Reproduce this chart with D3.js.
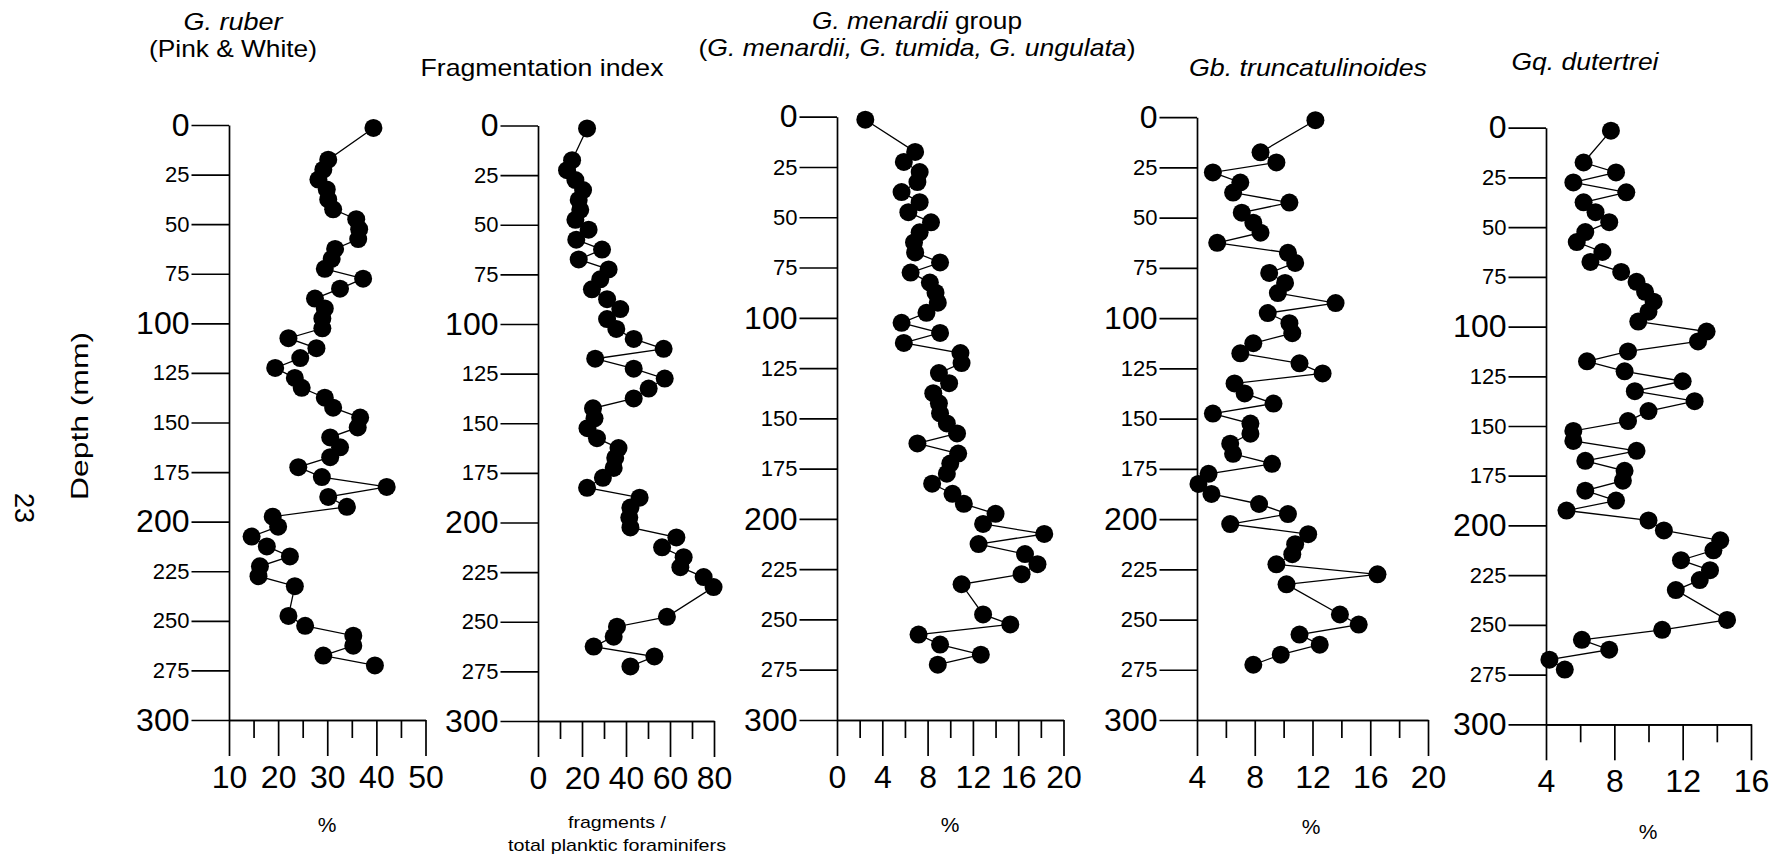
<!DOCTYPE html>
<html>
<head>
<meta charset="utf-8">
<script src="https://cdn.jsdelivr.net/npm/d3@7"></script>
<style>
  body { margin: 0; background: #fff; }
  svg { display: block; font-family: "Liberation Sans", Arial, Helvetica, sans-serif; }
</style>
</head>
<body>
<svg id="chart" width="1787" height="863"></svg>
<script>
// sample depths (mm), shared by all five records
const depth = [1.5, 17.5, 22.5, 27.5, 32.5, 37.5, 42.5, 47.5, 52.5, 57.5, 62.5, 67.5, 72.5, 77.5, 82.5,
  87.5, 92.5, 97.5, 102.5, 107.5, 112.5, 117.5, 122.5, 127.5, 132.5, 137.5, 142.5, 147.5, 152.5, 157.5,
  162.5, 167.5, 172.5, 177.5, 182.5, 187.5, 192.5, 197.5, 202.5, 207.5, 212.5, 217.5, 222.5, 227.5,
  232.5, 247.5, 252.5, 257.5, 262.5, 267.5, 272.5];

const ruber = [39.4, 30.2, 29.2, 28.2, 29.9, 30.2, 31.2, 35.9, 36.5, 36.3, 31.6, 30.9, 29.5, 37.3, 32.6,
  27.5, 29.5, 29.0, 29.0, 22.1, 27.8, 24.5, 19.4, 23.4, 24.8, 29.5, 31.2, 36.7, 36.2, 30.6,
  32.6, 30.6, 24.1, 28.9, 42.1, 30.2, 34.0, 18.9, 20.0, 14.6, 17.7, 22.4, 16.3, 16.0,
  23.4, 22.1, 25.5, 35.3, 35.3, 29.2, 39.7];

const fragIndex = [22.3, 15.5, 13.2, 17.0, 20.5, 18.5, 19.2, 17.0, 23.0, 17.4, 29.1, 18.5, 32.1, 28.3, 24.5,
  31.4, 37.4, 31.4, 35.6, 43.5, 57.1, 26.0, 43.5, 57.6, 50.3, 43.5, 25.0, 25.7, 22.5, 26.8,
  36.6, 35.1, 34.4, 29.5, 22.3, 46.2, 42.0, 41.5, 42.0, 62.9, 56.4, 66.2, 64.7, 75.3,
  79.8, 58.6, 35.9, 34.4, 25.3, 52.9, 42.0];

const menardii = [2.5, 6.9, 5.9, 7.3, 7.1, 5.7, 7.3, 6.3, 8.3, 7.3, 6.8, 6.9, 9.1, 6.5, 8.2,
  8.7, 8.9, 7.9, 5.7, 9.1, 5.9, 10.9, 11.0, 9.0, 9.9, 8.5, 9.0, 9.1, 9.7, 10.6,
  7.1, 10.7, 10.0, 9.7, 8.4, 10.2, 11.2, 14.0, 12.9, 18.3, 12.5, 16.6, 17.7, 16.3,
  11.0, 12.9, 15.3, 7.2, 9.1, 12.7, 8.9];

const truncatulinoides = [12.2, 8.4, 9.5, 5.1, 7.0, 6.5, 10.4, 7.1, 7.9, 8.4, 5.4, 10.3, 10.8, 9.0, 10.1,
  9.6, 13.6, 8.9, 10.4, 10.6, 7.9, 7.0, 11.1, 12.7, 6.6, 7.3, 9.3, 5.1, 7.7, 7.7,
  6.3, 6.5, 9.2, 4.8, 4.1, 5.0, 8.3, 10.3, 6.3, 11.7, 10.8, 10.6, 9.5, 16.5,
  10.2, 13.9, 15.2, 11.1, 12.5, 9.8, 7.9];

const dutertrei = [7.8, 6.2, 8.1, 5.6, 8.7, 6.2, 6.9, 7.7, 6.3, 5.8, 7.3, 6.6, 8.4, 9.3, 9.8,
  10.3, 10.0, 9.4, 13.4, 12.9, 8.8, 6.4, 8.6, 12.0, 9.2, 12.7, 10.0, 8.8, 5.6, 5.6,
  9.3, 6.3, 8.6, 8.5, 6.3, 8.1, 5.2, 10.0, 10.9, 14.2, 13.8, 11.9, 13.6, 13.0,
  11.6, 14.6, 10.8, 6.1, 7.7, 4.2, 5.1];

const depthTicks = [0, 25, 50, 75, 100, 125, 150, 175, 200, 225, 250, 275, 300];

// panel layout (screen placement of each axis box)
const panels = [
  { values: ruber, domain: [10, 50], major: [10, 20, 30, 40, 50], minor: [15, 25, 35, 45],
    x0: 229, x1: 425.5, y0: 125, y1: 720 },
  { values: fragIndex, domain: [0, 80], major: [0, 20, 40, 60, 80], minor: [10, 30, 50, 70],
    x0: 538, x1: 714, y0: 125.5, y1: 721 },
  { values: menardii, domain: [0, 20], major: [0, 4, 8, 12, 16, 20], minor: [2, 6, 10, 14, 18],
    x0: 837, x1: 1063.5, y0: 116.7, y1: 720 },
  { values: truncatulinoides, domain: [4, 20], major: [4, 8, 12, 16, 20], minor: [6, 10, 14, 18],
    x0: 1197, x1: 1428, y0: 117.2, y1: 720 },
  { values: dutertrei, domain: [4, 16], major: [4, 8, 12, 16], minor: [6, 10, 14],
    x0: 1546, x1: 1751, y0: 127.7, y1: 724.3 }
];

const titles = [
  { x: 233, y: 30, len: 99, parts: [['G. ruber', true]] },
  { x: 233, y: 57, len: 168, parts: [['(Pink & White)', false]] },
  { x: 542, y: 76, len: 243, parts: [['Fragmentation index', false]] },
  { x: 917, y: 29, len: 210, parts: [['G. menardii', true], [' group', false]] },
  { x: 917, y: 56, len: 437, parts: [['(', false], ['G. menardii, G. tumida, G. ungulata', true], [')', false]] },
  { x: 1308, y: 76, len: 238, parts: [['Gb. truncatulinoides', true]] },
  { x: 1585, y: 70, len: 147, parts: [['Gq. dutertrei', true]] }
];

const units = [
  { x: 327, y: 832, size: 21, text: '%' },
  { x: 617, y: 828, size: 17, text: 'fragments /', len: 98 },
  { x: 617, y: 851, size: 17, text: 'total planktic foraminifers', len: 218 },
  { x: 950, y: 832, size: 21, text: '%' },
  { x: 1311, y: 834, size: 21, text: '%' },
  { x: 1648, y: 839, size: 21, text: '%' }
];

const svg = d3.select('#chart');
const AXIS_W = 1.7;

panels.forEach(p => {
  const x = d3.scaleLinear().domain(p.domain).range([p.x0, p.x1]);
  const y = d3.scaleLinear().domain([0, 300]).range([p.y0, p.y1]);
  const g = svg.append('g');

  // depth axis
  const ya = g.append('g')
    .attr('transform', `translate(${p.x0},0)`)
    .call(d3.axisLeft(y).tickValues(depthTicks).tickSize(37.5).tickSizeOuter(0).tickPadding(2));
  ya.selectAll('text')
    .attr('font-size', d => d % 100 === 0 ? 32 : 22);

  // minor ticks on the value axis
  g.append('g')
    .attr('transform', `translate(0,${p.y1})`)
    .call(d3.axisBottom(x).tickValues(p.minor).tickSize(18).tickSizeOuter(0).tickFormat(''));

  // major ticks and labels
  g.append('g')
    .attr('transform', `translate(0,${p.y1})`)
    .call(d3.axisBottom(x).tickValues(p.major).tickSize(36).tickSizeOuter(0).tickPadding(9))
    .selectAll('text').attr('font-size', 32);

  g.selectAll('g').attr('font-family', null).attr('font-size', null);
  g.selectAll('.domain, .tick line').attr('stroke', '#000').attr('stroke-width', AXIS_W);
  g.selectAll('.tick text').attr('fill', '#000');

  const pts = d3.zip(depth, p.values);

  g.append('path')
    .datum(pts)
    .attr('fill', 'none')
    .attr('stroke', '#000')
    .attr('stroke-width', 1.3)
    .attr('d', d3.line().x(d => x(d[1])).y(d => y(d[0])));

  g.selectAll('circle')
    .data(pts)
    .join('circle')
    .attr('cx', d => x(d[1]))
    .attr('cy', d => y(d[0]))
    .attr('r', 9)
    .attr('fill', '#000');
});

// titles
titles.forEach(t => {
  const txt = svg.append('text')
    .attr('x', t.x).attr('y', t.y)
    .attr('text-anchor', 'middle')
    .attr('font-size', 24)
    .attr('textLength', t.len)
    .attr('lengthAdjust', 'spacingAndGlyphs');
  t.parts.forEach(([s, it]) => {
    txt.append('tspan').attr('font-style', it ? 'italic' : 'normal').text(s);
  });
});

// value-axis units
units.forEach(u => {
  const txt = svg.append('text')
    .attr('x', u.x).attr('y', u.y)
    .attr('text-anchor', 'middle')
    .attr('font-size', u.size)
    .text(u.text);
  if (u.len) txt.attr('textLength', u.len).attr('lengthAdjust', 'spacingAndGlyphs');
});

// depth label and page number
svg.append('text')
  .attr('transform', 'translate(88,416) rotate(-90)')
  .attr('text-anchor', 'middle')
  .attr('font-size', 24)
  .attr('textLength', 168)
  .attr('lengthAdjust', 'spacingAndGlyphs')
  .text('Depth (mm)');

svg.append('text')
  .attr('transform', 'translate(15,508) rotate(90)')
  .attr('text-anchor', 'middle')
  .attr('font-size', 27)
  .text('23');
</script>
</body>
</html>
